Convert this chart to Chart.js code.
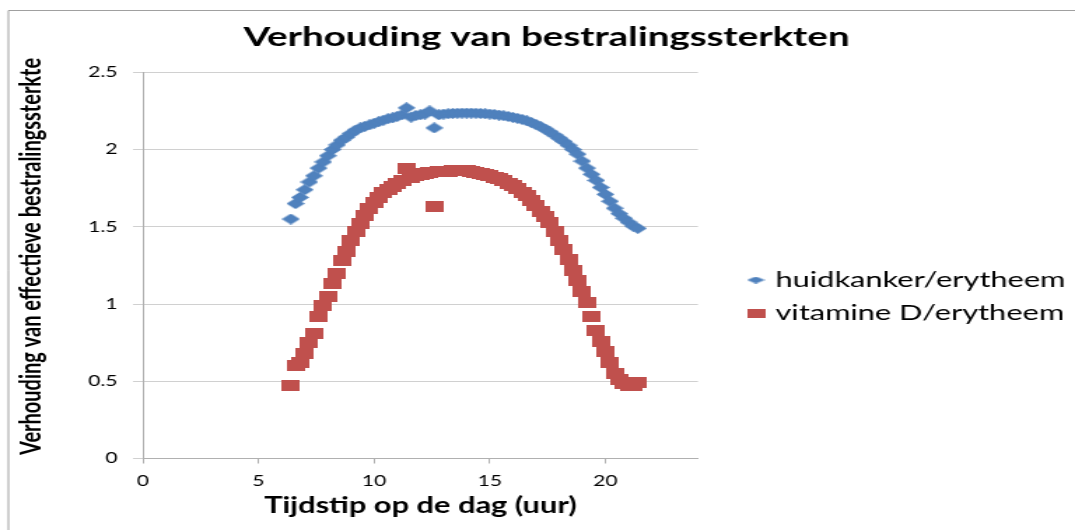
<!DOCTYPE html>
<html>
<head>
<meta charset="utf-8">
<script src="https://cdn.jsdelivr.net/npm/chart.js@4.4.1/dist/chart.umd.min.js"></script>
<style>
html,body{margin:0;padding:0;background:#fff;overflow:hidden}
#c{display:block}
</style>
</head>
<body>
<canvas id="c" width="768" height="530" style="width:1075px;height:530px"></canvas>
<script>
// ---- data ----
const titleText = 'Verhouding van bestralingssterkten';
const xTitle = 'Tijdstip op de dag (uur)';
const yTitle = 'Verhouding van effectieve bestralingssterkte';
const seriesNames = ['huidkanker/erytheem', 'vitamine D/erytheem'];
const xTicks = [0, 5, 10, 15, 20];
const yTicks = [0, 0.5, 1, 1.5, 2, 2.5];
const yTickLabels = ['0', '0.5', '1', '1.5', '2', '2.5'];

const times = [6.4, 6.6, 6.8, 7.0, 7.2, 7.4, 7.6, 7.8, 8.0, 8.2, 8.4, 8.6, 8.8, 9.0, 9.2, 9.4, 9.6, 9.8,
  10.0, 10.2, 10.4, 10.6, 10.8, 11.0, 11.2, 11.4, 11.6, 11.8, 12.0, 12.2, 12.4, 12.6, 12.8, 13.0, 13.2, 13.4,
  13.6, 13.8, 14.0, 14.2, 14.4, 14.6, 14.8, 15.0, 15.2, 15.4, 15.6, 15.8, 16.0, 16.2, 16.4, 16.6, 16.8, 17.0,
  17.2, 17.4, 17.6, 17.8, 18.0, 18.2, 18.4, 18.6, 18.8, 19.0, 19.2, 19.4, 19.6, 19.8, 20.0, 20.2, 20.4, 20.6,
  20.8, 21.0, 21.2, 21.4];

const huidkanker = [1.55, 1.65, 1.69, 1.74, 1.79, 1.83, 1.88, 1.92, 1.96, 2.00, 2.03, 2.06, 2.08, 2.105, 2.125, 2.14, 2.15, 2.16,
  2.17, 2.18, 2.19, 2.20, 2.205, 2.215, 2.225, 2.27, 2.21, 2.22, 2.225, 2.23, 2.25, 2.14, 2.225, 2.23, 2.232, 2.234,
  2.235, 2.236, 2.236, 2.236, 2.235, 2.234, 2.232, 2.23, 2.227, 2.223, 2.219, 2.214, 2.208, 2.202, 2.195, 2.186, 2.175, 2.162,
  2.148, 2.132, 2.114, 2.094, 2.074, 2.052, 2.028, 2.00, 1.97, 1.925, 1.88, 1.84, 1.80, 1.755, 1.71, 1.665, 1.62, 1.585,
  1.555, 1.53, 1.505, 1.49];

const vitamineD = [0.47, 0.60, 0.62, 0.68, 0.75, 0.81, 0.92, 0.99, 1.05, 1.13, 1.20, 1.28, 1.34, 1.41, 1.47, 1.52, 1.57, 1.62,
  1.66, 1.69, 1.72, 1.74, 1.76, 1.78, 1.80, 1.875, 1.82, 1.83, 1.84, 1.845, 1.85, 1.63, 1.855, 1.858, 1.861, 1.863,
  1.864, 1.864, 1.862, 1.858, 1.853, 1.847, 1.84, 1.832, 1.822, 1.81, 1.797, 1.782, 1.765, 1.745, 1.724, 1.70, 1.673, 1.64,
  1.60, 1.565, 1.53, 1.47, 1.41, 1.35, 1.285, 1.22, 1.15, 1.08, 1.01, 0.92, 0.83, 0.76, 0.69, 0.62, 0.55, 0.51,
  0.485, 0.475, 0.475, 0.49];

// ---- styling ----
const BLUE = '#4F81BD';
const RED = '#C0504D';
const FONT = 'Lato, "Open Sans", sans-serif';

function diamond(w, h, color) {
  const c = document.createElement('canvas');
  c.width = w; c.height = h;
  const g = c.getContext('2d');
  g.fillStyle = color;
  g.beginPath();
  g.moveTo(w / 2, 0); g.lineTo(w, h / 2); g.lineTo(w / 2, h); g.lineTo(0, h / 2);
  g.closePath(); g.fill();
  return c;
}
function rect(w, h, color) {
  const c = document.createElement('canvas');
  c.width = w; c.height = h;
  const g = c.getContext('2d');
  g.fillStyle = color;
  g.fillRect(0, 0, w, h);
  return c;
}
const blueMarker = diamond(13, 11, BLUE);
const redMarker = rect(13, 11, RED);
const legendMarkers = [diamond(13, 7, BLUE), rect(13, 9, RED)];

const PLOT_LEFT = 102;     // internal px
const PLOT_RIGHT = 498.6;
const PLOT_BOTTOM_H = 71.5;
const LEGEND_W = 768 - PLOT_RIGHT;

const framePlugin = {
  id: 'frame',
  beforeDraw(chart) {
    const ctx = chart.ctx;
    ctx.save();
    ctx.fillStyle = '#fff';
    ctx.fillRect(0, 0, chart.width, chart.height);
    ctx.strokeStyle = '#a0a0a0';
    ctx.lineWidth = 1;
    ctx.beginPath();
    ctx.moveTo(6, chart.height);
    ctx.lineTo(6, 10.5);
    ctx.lineTo(chart.width, 10.5);
    ctx.stroke();
    ctx.restore();
  }
};

const layoutPlugin = {
  id: 'layoutFix',
  beforeLayout(chart) {
    const lg = chart.legend;
    if (lg && !lg._fixed) {
      const f = lg.fit.bind(lg);
      lg.fit = function () { f(); this.width = LEGEND_W; };
      lg._fixed = true;
    }
  },
  afterLayout(chart) {
    const lg = chart.legend;
    if (lg) {
      lg.left = 526; lg.right = lg.left + lg.width;
      const mid = 296.5;
      const h = lg.bottom - lg.top;
      lg.top = mid - h / 2; lg.bottom = mid + h / 2;
    }
    const t = chart.titleBlock;
    if (t) { t.left += 6.4; t.right += 6.4; }
    const ys = chart.scales.y;
    if (ys && !ys._titleShift) {
      const d = ys.drawTitle.bind(ys);
      ys.drawTitle = function () {
        const ctx = this.ctx;
        ctx.save(); ctx.translate(0, -9); d(); ctx.restore();
      };
      ys._titleShift = true;
    }
  }
};

new Chart(document.getElementById('c'), {
  type: 'scatter',
  data: {
    datasets: [
      {
        label: seriesNames[0],
        data: times.map((t, i) => ({ x: t, y: huidkanker[i] })),
        pointStyle: blueMarker,
        backgroundColor: BLUE,
        borderColor: BLUE,
        pointRadius: 6,
        showLine: false
      },
      {
        label: seriesNames[1],
        data: times.map((t, i) => ({ x: t, y: vitamineD[i] })),
        pointStyle: redMarker,
        backgroundColor: RED,
        borderColor: RED,
        pointRadius: 6,
        showLine: false
      }
    ]
  },
  options: {
    responsive: false,
    animation: false,
    devicePixelRatio: 1,
    events: [],
    layout: { padding: { left: 0, right: 0, top: 0, bottom: 0 } },
    plugins: {
      title: {
        display: true,
        text: titleText,
        color: '#000',
        font: { family: FONT, size: 27.5, weight: 'bold' },
        padding: { top: 21, bottom: 18.3 }
      },
      legend: {
        display: true,
        position: 'right',
        align: 'center',
        labels: {
          usePointStyle: true,
          pointStyleWidth: 6,
          padding: 11,
          color: '#000',
          font: { family: FONT, size: 22 },
          generateLabels(chart) {
            const items = Chart.defaults.plugins.legend.labels.generateLabels(chart);
            items.forEach((it, i) => { it.pointStyle = legendMarkers[i]; });
            return items;
          }
        }
      },
      tooltip: { enabled: false }
    },
    scales: {
      x: {
        type: 'linear',
        min: 0,
        max: 24,
        afterBuildTicks(scale) { scale.ticks = xTicks.map(v => ({ value: v })); },
        afterFit(scale) { scale.height = PLOT_BOTTOM_H; },
        ticks: { color: '#000', font: { family: FONT, size: 15 }, padding: 9, maxRotation: 0, autoSkip: false },
        grid: { drawOnChartArea: false, drawTicks: true, tickLength: 5, color: '#b0b0b0' },
        border: { display: true, color: '#b0b0b0' },
        title: {
          display: true, text: xTitle, color: '#000',
          font: { family: FONT, size: 22, weight: 'bold' },
          padding: { top: 0, bottom: 11 }
        }
      },
      y: {
        type: 'linear',
        min: 0,
        max: 2.5,
        afterBuildTicks(scale) { scale.ticks = yTicks.map(v => ({ value: v })); },
        afterFit(scale) { scale.width = PLOT_LEFT; },
        ticks: {
          color: '#000', font: { family: FONT, size: 15 }, padding: 11,
          callback(value) { const i = yTicks.indexOf(value); return i >= 0 ? yTickLabels[i] : ''; }
        },
        grid: { drawTicks: true, tickLength: 7, color: '#d0d0d0' },
        border: { display: true, color: '#b0b0b0' },
        title: {
          display: true, text: yTitle, color: '#000',
          font: { family: FONT, size: 20, weight: 'bold' },
          padding: { top: 11, bottom: 0 }
        }
      }
    }
  },
  plugins: [framePlugin, layoutPlugin]
});
</script>
</body>
</html>
